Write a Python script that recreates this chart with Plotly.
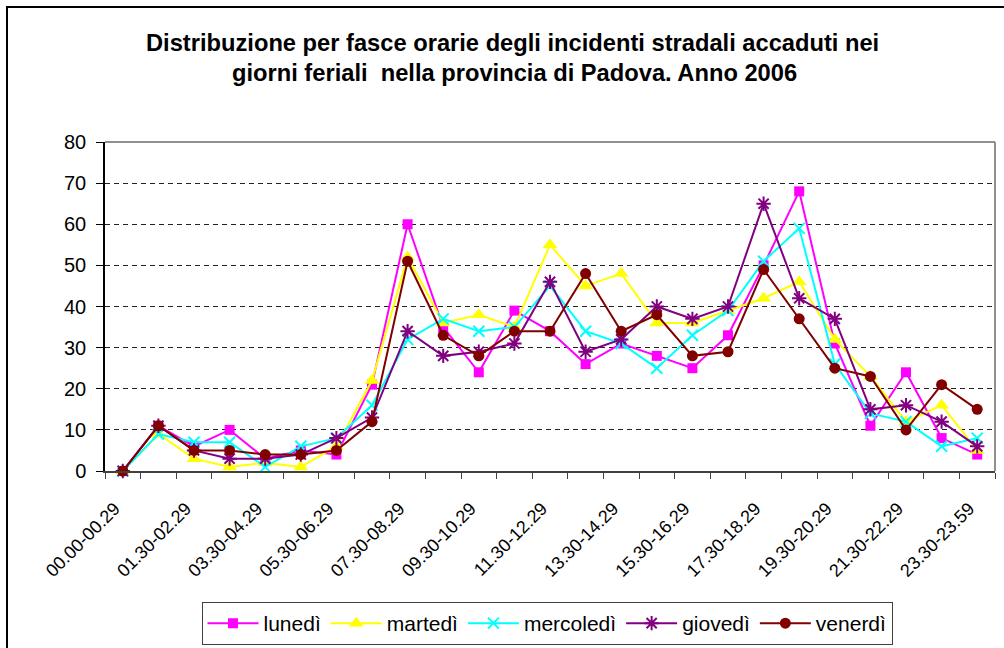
import plotly.graph_objects as go

categories = ["00.00-00.29", "00.30-01.29", "01.30-02.29", "02.30-03.29", "03.30-04.29",
              "04.30-05.29", "05.30-06.29", "06.30-07.29", "07.30-08.29", "08.30-09.29",
              "09.30-10.29", "10.30-11.29", "11.30-12.29", "12.30-13.29", "13.30-14.29",
              "14.30-15.29", "15.30-16.29", "16.30-17.29", "17.30-18.29", "18.30-19.29",
              "19.30-20.29", "20.30-21.29", "21.30-22.29", "22.30-23.29", "23.30-23.59"]

lunedi    = [0, 11, 6, 10, 3, 5, 4, 21, 60, 35, 24, 39, 34, 26, 31, 28, 25, 33, 50, 68, 31, 11, 24, 8, 4]
martedi   = [0, 9, 3, 1, 2, 1, 6, 22, 52, 36, 38, 35, 55, 45, 48, 36, 36, 39, 42, 46, 32, 23, 12, 16, 5]
mercoledi = [0, 9, 7, 7, 1, 6, 8, 16, 32, 37, 34, 35, 45, 34, 31, 25, 33, 39, 51, 59, 26, 14, 12, 6, 8]
giovedi   = [0, 11, 5, 3, 3, 4, 8, 13, 34, 28, 29, 31, 46, 29, 32, 40, 37, 40, 65, 42, 37, 15, 16, 12, 6]
venerdi   = [0, 11, 5, 5, 4, 4, 5, 12, 51, 33, 28, 34, 34, 48, 34, 38, 28, 29, 49, 37, 25, 23, 10, 21, 15]

tick_labels = [c if i % 2 == 0 else "" for i, c in enumerate(categories)]

series = [
    ("lunedì", lunedi, "#FF00FF", "square", 10),
    ("martedì", martedi, "#FFFF00", "triangle-up", 13),
    ("mercoledì", mercoledi, "#00FFFF", "x-thin", 11),
    ("giovedì", giovedi, "#800080", "asterisk", 12),
    ("venerdì", venerdi, "#800000", "circle", 11),
]

FONT = "Liberation Sans, Arial, sans-serif"

fig = go.Figure()
for name, vals, color, sym, size in series:
    marker = dict(symbol=sym, size=size, color=color)
    if sym in ("x-thin", "asterisk"):
        marker["line"] = dict(color=color, width=2)
    fig.add_trace(go.Scatter(x=categories, y=vals, name=name, mode="lines+markers",
                             line=dict(color=color, width=2), marker=marker,
                             cliponaxis=False))

L, R, T, B = 105, 995, 142, 471
W, H = 1004, 648
ph = B - T

def py(y):
    return (B - y) / ph

def px(x):
    return (x - L) / (R - L)

fig.update_layout(
    width=W, height=H,
    margin=dict(l=L, r=W - R, t=T, b=H - B, autoexpand=False),
    paper_bgcolor="white", plot_bgcolor="white",
    font=dict(family=FONT, color="black"),
    showlegend=True,
    legend=dict(orientation="h", x=px(547), xanchor="center", y=py(602), yanchor="top",
                bordercolor="#404040", borderwidth=1, font=dict(size=21, family=FONT),
                itemwidth=51, bgcolor="white", traceorder="normal"),
    xaxis=dict(type="category", categoryorder="array", categoryarray=categories,
               tickmode="array", tickvals=categories, ticktext=tick_labels,
               tickson="boundaries", ticks="outside", ticklen=6, tickcolor="#404040",
               tickangle=-45, tickfont=dict(size=18, family=FONT), ticklabelstandoff=18,
               ticklabelshift=-8,
               showline=True, linecolor="#404040", linewidth=2, automargin=False,
               showgrid=False, range=[-0.5, 24.5], zeroline=False),
    yaxis=dict(range=[0, 80], dtick=10, ticks="outside", ticklen=7, tickcolor="black",
               tickfont=dict(size=20, family=FONT), ticklabelstandoff=6, automargin=False,
               showline=True, linecolor="black", linewidth=1.5,
               showgrid=True, gridcolor="#222222", gridwidth=1, griddash="5px,4px",
               zeroline=False),
    shapes=[
        dict(type="line", xref="x domain", yref="y domain", x0=0, x1=1, y0=1, y1=1,
             line=dict(color="#909090", width=2), layer="below"),
        dict(type="line", xref="x domain", yref="y domain", x0=1, x1=1, y0=0, y1=1,
             line=dict(color="#909090", width=2), layer="below"),
        dict(type="rect", xref="paper", yref="paper", x0=px(7), x1=px(1010),
             y0=py(660), y1=py(7), line=dict(color="black", width=2), layer="below"),
    ],
    annotations=[
        dict(text="<b>Distribuzione per fasce orarie degli incidenti stradali accaduti nei</b>",
             xref="paper", yref="paper", x=px(512), y=py(43), xanchor="center", yanchor="middle",
             showarrow=False, font=dict(size=23.7, family=FONT, color="black")),
        dict(text="<b>giorni feriali  nella provincia di Padova. Anno 2006</b>",
             xref="paper", yref="paper", x=px(514), y=py(73), xanchor="center", yanchor="middle",
             showarrow=False, font=dict(size=23.7, family=FONT, color="black")),
    ],
)

fig.write_html("out.html", config={"displayModeBar": False},
               post_script="document.body.style.margin='0px';")
